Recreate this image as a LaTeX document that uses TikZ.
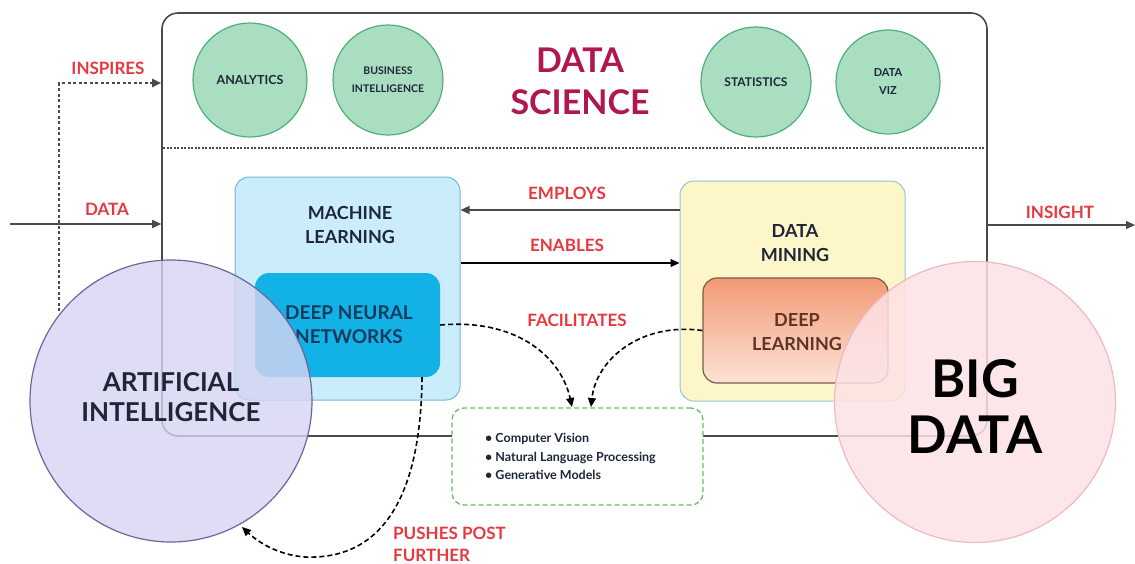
\documentclass[tikz,border=0pt]{standalone}
\usepackage{fontspec}
\setmainfont{Lato}
\usetikzlibrary{arrows.meta,calc}
\definecolor{lbl}{HTML}{E8383F}
\definecolor{ink}{HTML}{1E2638}
\definecolor{frame}{HTML}{4A4A4A}
\definecolor{gfill}{HTML}{A9DFC0}
\definecolor{gline}{HTML}{4FAE7C}
\definecolor{dsred}{HTML}{B0174F}
\definecolor{mlfill}{HTML}{CBEDFB}
\definecolor{mlline}{HTML}{6FB8DA}
\definecolor{dnnfill}{HTML}{12B2E6}
\definecolor{dnnink}{HTML}{153A5C}
\definecolor{dmfill}{HTML}{FDF6C9}
\definecolor{dmline}{HTML}{92C6D6}
\definecolor{dltop}{HTML}{F29A74}
\definecolor{dlbot}{HTML}{FCE3D6}
\definecolor{dlline}{HTML}{7A5A48}
\definecolor{dlink}{HTML}{5E3426}
\definecolor{aifill}{HTML}{D6D4F2}
\definecolor{ailine}{HTML}{6A669E}
\definecolor{bdfill}{HTML}{FDE2E6}
\definecolor{bdline}{HTML}{F0B8C2}
\definecolor{itline}{HTML}{6DBA6A}
\tikzset{
  arr/.style={-{Triangle[length=9pt,width=8pt]}},
  lab/.style={text=lbl,font=\bfseries\fontsize{17}{22}\selectfont,inner sep=0pt},
  topic/.style={circle,draw=gline,line width=1.2pt,fill=gfill,text=ink,align=center,inner sep=0pt},
  boxtext/.style={text=ink,align=center,font=\bfseries\fontsize{18}{24}\selectfont,inner sep=0pt},
  dash5/.style={dash pattern=on 5pt off 3pt,line width=1.6pt},
}
\begin{document}
\begin{tikzpicture}[x=1pt,y=-1pt]
\useasboundingbox (0,0) rectangle (1135,563);
% Data science frame
\node[draw=frame,line width=1.6pt,rounded corners=16pt,minimum width=825pt,minimum height=423pt,inner sep=0pt] (ds) at (574.5,224.5) {};
\coordinate (divL) at (163,148);
\coordinate (divR) at (986,148);
\draw[frame,dash pattern=on 2pt off 1.5pt,line width=1.2pt] (divL) -- (divR);
% topic circles
\node[topic,minimum size=114pt,font=\bfseries\fontsize{12.5}{18}\selectfont] (an) at (250,80) {ANALYTICS};
\node[topic,minimum size=110pt,font=\bfseries\fontsize{10.5}{18}\selectfont] (bi) at (388,80) {BUSINESS\\INTELLIGENCE};
\node[topic,minimum size=110pt,font=\bfseries\fontsize{12}{18}\selectfont] (st) at (756,82) {STATISTICS};
\node[topic,minimum size=104pt,font=\bfseries\fontsize{11}{18}\selectfont] (dv) at (888,82) {DATA\\VIZ};
\node[text=dsred,align=center,font=\bfseries\fontsize{34}{42}\selectfont,inner sep=0pt] (dst) at (580,81) {DATA\\SCIENCE};
% machine learning
\node[draw=mlline,line width=1pt,fill=mlfill,rounded corners=14pt,minimum width=225pt,minimum height=223pt,inner sep=0pt] (ml) at (347.5,288.5) {};
\node[boxtext] (mlt) at (350,225) {MACHINE\\LEARNING};
\node[fill=dnnfill,rounded corners=14pt,minimum width=185pt,minimum height=104pt,inner sep=0pt] (dnn) at (347.5,325) {};
\node[boxtext,text=dnnink,font=\bfseries\fontsize{19}{24}\selectfont] (dnnt) at (349,325) {DEEP NEURAL\\NETWORKS};
% data mining
\node[draw=dmline,line width=1pt,fill=dmfill,rounded corners=14pt,minimum width=225pt,minimum height=220pt,inner sep=0pt] (dm) at (792.5,291) {};
\node[boxtext] (dmt) at (795,243) {DATA\\MINING};
\node[draw=dlline,line width=1.2pt,top color=dltop,bottom color=dlbot,rounded corners=14pt,minimum width=185pt,minimum height=105pt,inner sep=0pt] (dl) at (795.5,330.5) {};
\node[boxtext,text=dlink] (dlt) at (797,332) {DEEP\\LEARNING};
% relations
\coordinate (emS) at (680,210);
\coordinate (emE) at (460,210);
\draw[arr,line width=1.3pt,frame] (dm.west |- emS) -- (ml.east |- emE);
\node[lab] (emp) at (567,193) {EMPLOYS};
\draw[arr,line width=1.3pt,black] (ml.east |- 0,263) -- (dm.west |- 0,263);
\node[lab] (ena) at (567,245) {ENABLES};
\node[lab] (fac) at (577,320) {FACILITATES};
% items box
\node[draw=itline,dash pattern=on 5pt off 3pt,line width=1.3pt,fill=white,rounded corners=12pt,minimum width=251pt,minimum height=97pt,inner sep=0pt] (it) at (577.5,456.5) {};
\node[text=ink,align=left,font=\bfseries\fontsize{12.5}{18.5}\selectfont,inner sep=0pt,anchor=west] (itt) at (485,456.5)
  {\textbullet\ Computer Vision\\\textbullet\ Natural Language Processing\\\textbullet\ Generative Models};
\coordinate (f1) at (572,407);
\coordinate (f2) at (591,407);
\draw[arr,dash5] (dnn.east) .. controls (520,318) and (562,360) .. (f1);
\draw[arr,dash5] (dl.west) .. controls (640,322) and (596,360) .. (f2);
% AI and Big Data circles
\node[circle,draw=ailine,line width=1.2pt,fill=aifill,fill opacity=0.8,text opacity=1,minimum size=282pt,inner sep=0pt] (ai) at (171,401) {};
\node[text=ink,align=center,font=\bfseries\fontsize{26}{30}\selectfont,inner sep=0pt] (ait) at (171,397) {ARTIFICIAL\\INTELLIGENCE};
\node[circle,draw=bdline,line width=1.2pt,fill=bdfill,fill opacity=0.85,text opacity=1,minimum size=281pt,inner sep=0pt] (bd) at (975,402) {};
\node[text=black,align=center,font=\bfseries\fontsize{52}{56}\selectfont,inner sep=0pt] (bdt) at (975,406) {BIG\\DATA};
% pushes
\coordinate (pp) at (242,527);
\draw[arr,dash5] (dnn.south -| 422,0) .. controls (421,500) and (380,560) .. (305,557) .. controls (278,555) and (258,542) .. (pp);
\node[lab,align=left,anchor=west] (pus) at (393,544) {PUSHES POST\\FURTHER};
% inputs / outputs
\coordinate (dIn) at (10,224);
\draw[arr,line width=1.3pt,frame] (dIn) -- (ds.west |- dIn);
\node[lab] (dat) at (107,209) {DATA};
\coordinate (insp) at (59,311);
\draw[arr,dash pattern=on 3pt off 2.5pt,line width=2pt,frame] (insp) -- (59,83) -- (ds.west |- 0,83);
\node[lab] (ins) at (108,68) {INSPIRES};
\coordinate (oOut) at (1135,225);
\draw[arr,line width=1.3pt,frame] (ds.east |- oOut) -- (oOut);
\node[lab] (isg) at (1060,212) {INSIGHT};
\end{tikzpicture}
\end{document}
